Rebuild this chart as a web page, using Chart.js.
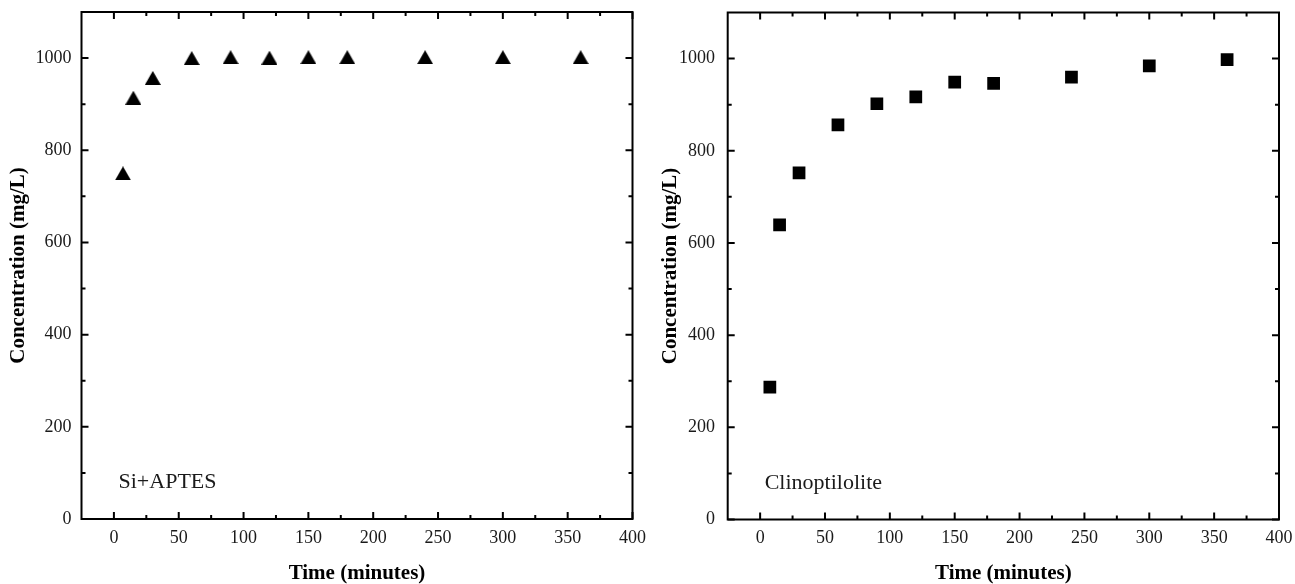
<!DOCTYPE html>
<html>
<head>
<meta charset="utf-8">
<script src="https://cdn.jsdelivr.net/npm/chart.js@4.4.0/dist/chart.umd.min.js"></script>
<style>
  html, body { margin: 0; padding: 0; background: #fff; }
  #wrap { position: relative; width: 1295px; height: 584px; }
  .box { position: absolute; top: 0; height: 584px; }
</style>
</head>
<body>
<div id="wrap">
  <div class="box" style="left:0; width:646px"><canvas id="chartA"></canvas></div>
  <div class="box" style="left:646px; width:649px"><canvas id="chartB"></canvas></div>
</div>
<script>
// tick values
const xMajor = [0, 50, 100, 150, 200, 250, 300, 350, 400];
const xMinor = [25, 75, 125, 175, 225, 275, 325, 375];
const yMajor = [0, 200, 400, 600, 800, 1000];
const yMinor = [100, 300, 500, 700, 900];

// Si+APTES
const timeA = [7, 15, 30, 60, 90, 120, 150, 180, 240, 300, 360];
const concA = [750, 914, 957, 1000, 1002, 1001, 1002, 1002, 1002, 1002, 1002];

// Clinoptilolite
const timeB = [7.5, 15, 30, 60, 90, 120, 150, 180, 240, 300, 360];
const concB = [287, 639, 752, 856, 902, 917, 949, 946, 960, 984, 998];

const SERIF = '"Liberation Serif", "Times New Roman", serif';

function makeTriangle(w, h) {
    const c = document.createElement('canvas');
    c.width = w;
    c.height = h;
    const g = c.getContext('2d');
    g.fillStyle = '#000';
    g.beginPath();
    g.moveTo(w / 2, 0);
    g.lineTo(w, h);
    g.lineTo(0, h);
    g.closePath();
    g.fill();
    return c;
}

// frame with inward ticks on all four sides, plus the sample label
const frameTicks = {
    id: 'frameTicks',
    afterDatasetsDraw(chart, args, opts) {
        const { ctx, chartArea: a } = chart;
        const x = chart.scales.x, y = chart.scales.y;
        ctx.save();
        ctx.strokeStyle = '#000';
        ctx.lineWidth = 2;
        ctx.strokeRect(a.left, a.top, a.right - a.left, a.bottom - a.top);
        ctx.beginPath();
        const xt = (vals, len) => vals.forEach(v => {
            const px = x.getPixelForValue(v);
            ctx.moveTo(px, a.bottom); ctx.lineTo(px, a.bottom - len);
            ctx.moveTo(px, a.top); ctx.lineTo(px, a.top + len);
        });
        const yt = (vals, len) => vals.forEach(v => {
            const py = y.getPixelForValue(v);
            ctx.moveTo(a.left, py); ctx.lineTo(a.left + len, py);
            ctx.moveTo(a.right, py); ctx.lineTo(a.right - len, py);
        });
        xt(xMajor, 7); xt(xMinor, 4);
        yt(yMajor, 7); yt(yMinor, 4);
        ctx.stroke();

        ctx.font = '22px ' + SERIF;
        ctx.fillStyle = '#1a1a1a';
        ctx.textBaseline = 'alphabetic';
        ctx.textAlign = 'left';
        ctx.fillText(opts.text, a.left + opts.dx, a.bottom - opts.dy);
        ctx.restore();
    }
};

function createChart(id, xs, ys, marker, geo) {
    const points = xs.map((t, i) => ({ x: t, y: ys[i] }));
    return new Chart(document.getElementById(id), {
        type: 'scatter',
        data: {
            datasets: [{
                data: points,
                pointStyle: marker,
                pointRadius: 9,
                pointBackgroundColor: '#000',
                pointBorderWidth: 0,
                showLine: false
            }]
        },
        plugins: [frameTicks],
        options: {
            responsive: true,
            maintainAspectRatio: false,
            animation: false,
            layout: { padding: { left: 0, top: geo.top, right: geo.right, bottom: 0 } },
            plugins: {
                legend: { display: false },
                tooltip: { enabled: false },
                frameTicks: { text: geo.text, dx: 37, dy: 31 }
            },
            scales: {
                x: {
                    type: 'linear',
                    min: -25,
                    max: 400,
                    afterBuildTicks: s => { s.ticks = xMajor.map(v => ({ value: v })); },
                    afterFit: s => {
                        s.height = geo.xHeight;
                        s.paddingLeft = 0;
                        s.paddingRight = 0;
                    },
                    grid: { display: false, drawTicks: false },
                    border: { display: false },
                    ticks: {
                        padding: 8,
                        color: '#1a1a1a',
                        font: { family: SERIF, size: 18 },
                        callback: v => String(v)
                    },
                    title: {
                        display: true,
                        text: 'Time (minutes)',
                        color: '#000',
                        padding: { top: 0, bottom: 0 },
                        font: { family: SERIF, size: 21, weight: 'bold', lineHeight: 1 }
                    }
                },
                y: {
                    type: 'linear',
                    min: 0,
                    max: 1100,
                    afterBuildTicks: s => { s.ticks = yMajor.map(v => ({ value: v })); },
                    afterFit: s => {
                        s.width = geo.yWidth;
                        s.paddingTop = 0;
                        s.paddingBottom = 0;
                    },
                    grid: { display: false, drawTicks: false },
                    border: { display: false },
                    ticks: {
                        padding: geo.yPad,
                        color: '#1a1a1a',
                        font: { family: SERIF, size: 18 },
                        callback: v => String(v)
                    },
                    title: {
                        display: true,
                        text: 'Concentration (mg/L)',
                        color: '#000',
                        padding: { top: geo.titlePad, bottom: 0 },
                        font: { family: SERIF, size: 21, weight: 'bold', lineHeight: 1 }
                    }
                }
            }
        }
    });
}

createChart('chartA', timeA, concA, makeTriangle(16, 14), {
    top: 12, right: 646 - 632.5, xHeight: 584 - 519, yWidth: 81.5, yPad: 10, titlePad: 8.5, text: 'Si+APTES'
});
createChart('chartB', timeB, concB, 'rect', {
    top: 12.5, right: 649 - 633, xHeight: 584 - 519.5, yWidth: 81.7, yPad: 12.7, titlePad: 14.5, text: 'Clinoptilolite'
});
</script>
</body>
</html>
